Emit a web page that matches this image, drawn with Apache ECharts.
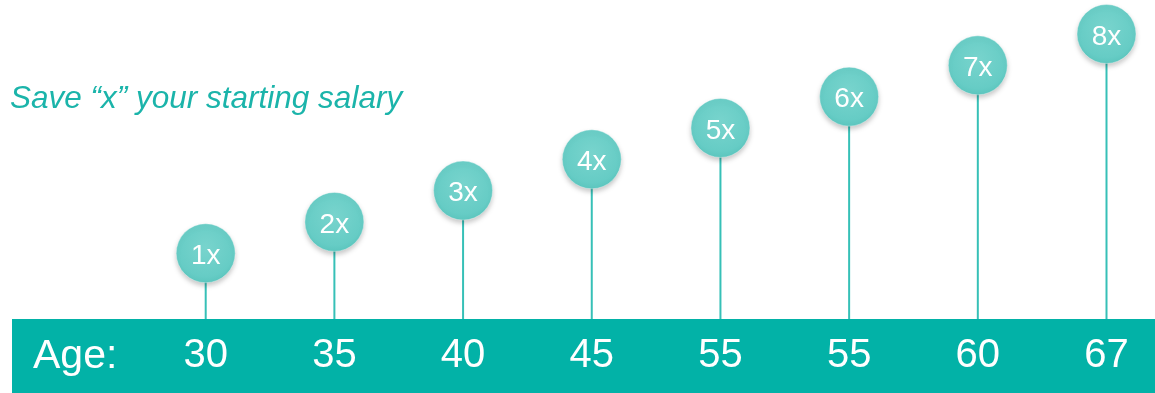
<!DOCTYPE html>
<html>
<head>
<meta charset="utf-8">
<script src="https://cdn.jsdelivr.net/npm/echarts@6/dist/echarts.min.js"></script>
<style>
  html, body { margin: 0; padding: 0; background: #fff; }
  #savingsChart { width: 1155px; height: 393px; }
</style>
</head>
<body>
<div id="savingsChart"></div>
<script>
var ages = ['30', '35', '40', '45', '55', '55', '60', '67'];
var multiples = [1, 2, 3, 4, 5, 6, 7, 8];
var bubbleLabels = ['1x', '2x', '3x', '4x', '5x', '6x', '7x', '8x'];

var savingsChart = echarts.init(document.getElementById('savingsChart'));
drawSavingsChart();

function drawSavingsChart() {
    var yMin = -1.1;
    var stemData = [];
    var bubbleData = [];
    multiples.forEach(function (m, i) {
        stemData.push([i, m]);
        bubbleData.push({ value: [i, m], label: { formatter: bubbleLabels[i] } });
    });

    var option = {
        animation: false,
        graphic: [
            {
                type: 'rect',
                left: 12, top: 319,
                shape: { width: 1143, height: 74 },
                style: { fill: '#02b2a7' },
                z: 0
            },
            {
                type: 'text',
                left: 33, top: 336,
                style: {
                    text: 'Age:',
                    fill: '#fff',
                    font: '41px "Liberation Sans", Arial, sans-serif'
                },
                z: 10
            },
            {
                type: 'text',
                left: 10, top: 83,
                style: {
                    text: 'Save \u201cx\u201d your starting salary',
                    fill: '#1bb4aa',
                    font: 'italic 31.5px "Liberation Sans", Arial, sans-serif'
                }
            }
        ],
        grid: { left: 205.7, right: 48.5, top: 34, bottom: 74 },
        xAxis: {
            type: 'category',
            data: ages,
            boundaryGap: false,
            axisLine: { show: false },
            axisTick: { show: false },
            axisLabel: {
                color: '#fff',
                fontSize: 40,
                fontFamily: '"Liberation Sans", Arial, sans-serif',
                margin: 37,
                verticalAlign: 'middle',
                interval: 0
            },
            z: 10
        },
        yAxis: {
            type: 'value',
            min: yMin,
            max: 8,
            show: false,
            splitLine: { show: false }
        },
        series: [
            {
                type: 'custom',
                data: stemData,
                z: 2,
                renderItem: function (params, api) {
                    var top = api.coord([api.value(0), api.value(1)]);
                    var bottom = api.coord([api.value(0), yMin]);
                    return {
                        type: 'line',
                        shape: { x1: top[0], y1: top[1], x2: bottom[0], y2: bottom[1] },
                        style: { stroke: '#36c0b7', lineWidth: 2 }
                    };
                }
            },
            {
                type: 'scatter',
                data: bubbleData,
                symbolSize: 59,
                z: 5,
                itemStyle: {
                    opacity: 1,
                    color: new echarts.graphic.RadialGradient(0.5, 0.4, 0.65, [
                        { offset: 0, color: '#78d4cd' },
                        { offset: 0.75, color: '#66ccc5' },
                        { offset: 1, color: '#56c2ba' }
                    ]),
                    borderColor: 'rgba(255,255,255,0.35)',
                    borderWidth: 1,
                    shadowColor: 'rgba(0,0,0,0.22)',
                    shadowBlur: 5,
                    shadowOffsetY: 3
                },
                label: {
                    show: true,
                    position: 'inside',
                    offset: [0, 3],
                    color: '#fff',
                    fontSize: 28,
                    fontFamily: '"Liberation Sans", Arial, sans-serif'
                }
            }
        ]
    };
    savingsChart.setOption(option);
}
</script>
</body>
</html>
